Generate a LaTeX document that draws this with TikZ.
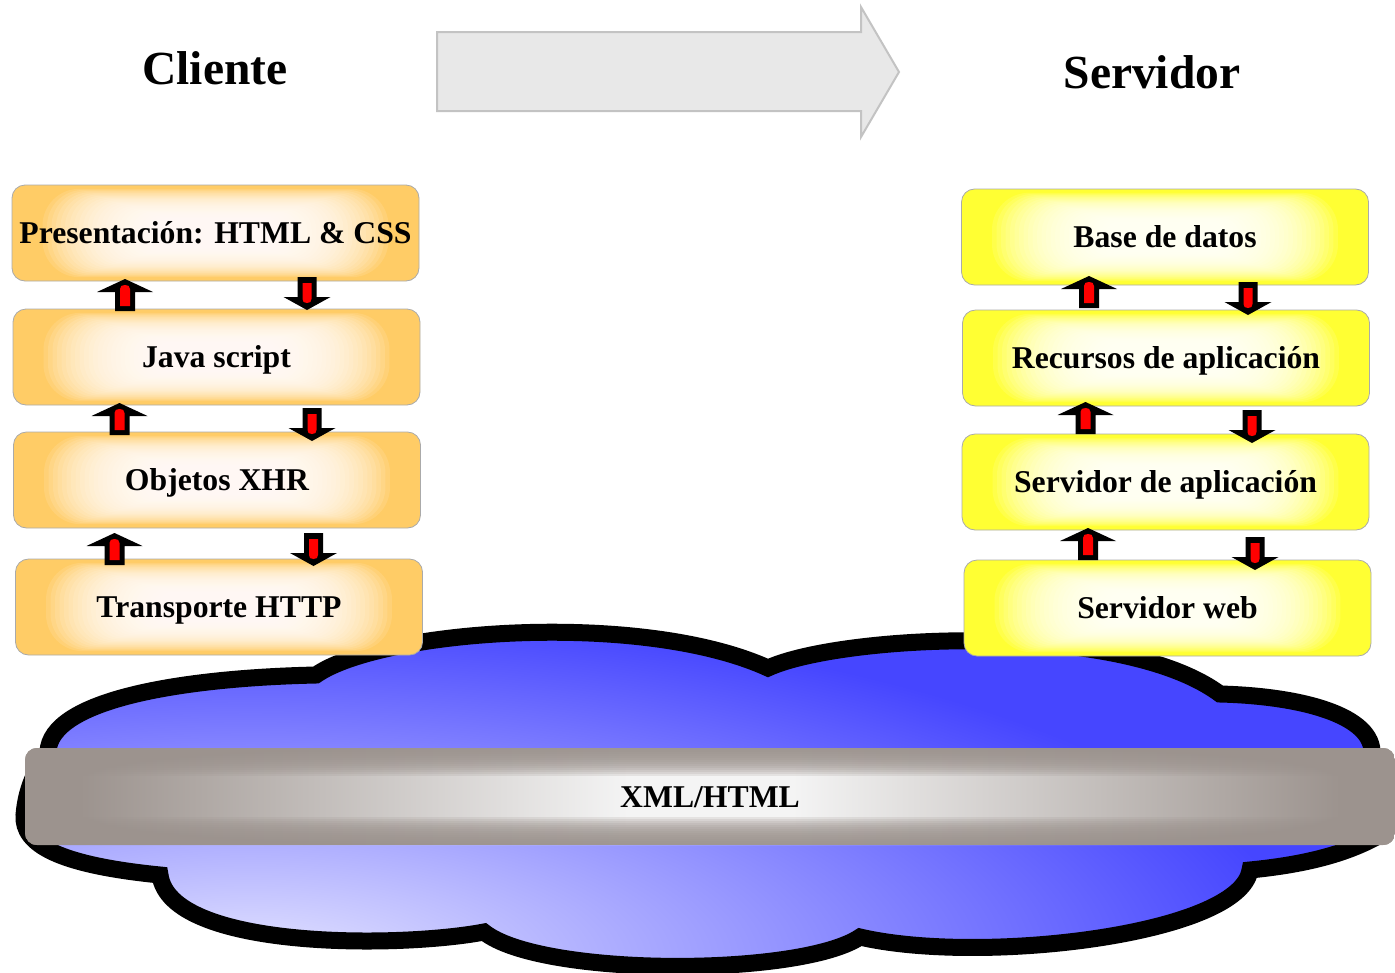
\documentclass[tikz,border=0pt]{standalone}
\usepackage{fontspec}
\setmainfont{Liberation Serif}
\usetikzlibrary{calc}

\definecolor{cliorange}{HTML}{FFCC66}
\definecolor{srvyellow}{HTML}{FFFF33}
\definecolor{boxedge}{HTML}{AAAAAA}
\definecolor{flowfill}{HTML}{E8E8E8}
\definecolor{flowedge}{HTML}{C3C3C3}
\definecolor{cloudlight}{HTML}{E4E4FF}
\definecolor{clouddark}{HTML}{4646FF}
\definecolor{bargray}{HTML}{9C938E}
\definecolor{barlight}{HTML}{F4F4F4}

% light centre of the network cloud
\pgfdeclareradialshading{cloudglow}{\pgfpoint{0bp}{0bp}}%
  {color(0bp)=(cloudlight); color(25bp)=(clouddark); color(50bp)=(clouddark)}
% metallic band: gray ends, bright middle
\pgfdeclarehorizontalshading{barshade}{100bp}%
  {color(0bp)=(bargray); color(27bp)=(bargray); color(47bp)=(barlight);
   color(53bp)=(barlight); color(73bp)=(bargray); color(100bp)=(bargray)}

\newcommand\cbfont{\fontsize{31.7}{38}\selectfont\bfseries}
\newcommand\bigtitlefont{\fontsize{47.5}{57}\selectfont\bfseries}

% coloured box body that brightens towards its middle
\newcommand\glowbody[2]{%
  \begin{scope}[shift={(#2)}]
    \fill[#1, rounded corners=13pt] (-203.5,-48) rectangle (203.5,48);
    \foreach \k in {0,...,25} {
      \pgfmathsetmacro\s{0.92-0.024*\k}
      \pgfmathsetmacro\glowrad{40*\s}
      \pgfmathsetmacro\glowhw{188*\s}
      \pgfmathsetmacro\glowhh{48*\s}
      \fill[white, fill opacity=0.115, rounded corners=\glowrad pt]
        (-\glowhw,-\glowhh) rectangle (\glowhw,\glowhh);
    }
  \end{scope}}

\tikzset{
  layerbox/.style={
    draw=boxedge, line width=0.8pt, rounded corners=13pt,
    minimum width=407pt, minimum height=96pt, inner sep=0pt,
    font=\cbfont, text height=23.8pt, text depth=3.8pt},
  uparr/.pic={
    \fill[black] (0,0) -- (28,13) -- (10,13) -- (10,32) -- (-10,32)
      -- (-10,13) -- (-28,13) -- cycle;
    \fill[red] (-5,27) -- (-5,10) .. controls (-5,7) and (-3,6) .. (0,6)
      .. controls (3,6) and (5,7) .. (5,10) -- (5,27) -- cycle;
  },
  downarr/.pic={
    \fill[black] (-9.5,0) -- (9.5,0) -- (9.5,20) -- (23.5,20) -- (0,33)
      -- (-23.5,20) -- (-9.5,20) -- cycle;
    \fill[red] (-4.5,6) -- (4.5,6) -- (4.5,22) .. controls (4.5,25) and (3,26) .. (0,26)
      .. controls (-3,26) and (-4.5,25) .. (-4.5,22) -- cycle;
  }
}

\newcommand\cloudoutline{%
  (48,752) .. controls (50,700) and (180,678) .. (316,675)
  .. controls (380,630) and (640,610) .. (768,668)
  .. controls (840,635) and (1120,620) .. (1220,694)
  .. controls (1300,696) and (1375,715) .. (1372,755)
  .. controls (1395,790) and (1395,825) .. (1380,835)
  .. controls (1340,858) and (1290,866) .. (1250,870)
  .. controls (1240,935) and (980,965) .. (860,937)
  .. controls (800,977) and (540,977) .. (484,932)
  .. controls (400,948) and (170,950) .. (160,875)
  .. controls (60,865) and (22,845) .. (24,815)
  .. controls (26,790) and (35,770) .. (48,752) -- cycle}

\begin{document}
\begin{tikzpicture}[x=1pt, y=-1pt]
\useasboundingbox (0,0) rectangle (1395,972);

% titles and the flow arrow
\node[anchor=base, font=\bigtitlefont] (cli) at (215,84) {Cliente};
\node[anchor=base, font=\bigtitlefont] (srv) at (1152,88) {Servidor};
\draw[flowedge, fill=flowfill, line width=2pt]
  (437,32) -- (861,32) -- (861,7) -- (899,72) -- (861,137) -- (861,111) -- (437,111) -- cycle;

% network cloud
\begin{scope}
  \clip \cloudoutline;
  \fill[clouddark] (0,600) rectangle (1395,972);
  \shade[shading=cloudglow] (250,960) ellipse [x radius=1050, y radius=350];
\end{scope}
\draw[black, line width=17pt, miter limit=10] \cloudoutline;

% XML/HTML band
\begin{scope}
  \path[clip, rounded corners=12pt] (25,748) rectangle (1395,845);
  \shade[shading=barshade] (25,748) rectangle (1395,845);
  \foreach \h in {2,4,...,28} {
    \fill[bargray, fill opacity=0.18] (25,748) rectangle (1395,748+\h);
    \fill[bargray, fill opacity=0.18] (25,845) rectangle (1395,845-\h);
  }
\end{scope}
\node[font=\cbfont, text height=23.8pt, text depth=3.8pt] (xml) at (710,797) {XML/HTML};

% layer positions
\coordinate (p1) at (215.5,233);
\coordinate (p2) at (216.5,357);
\coordinate (p3) at (217,480);
\coordinate (p4) at (219,607);
\coordinate (q1) at (1165,237);
\coordinate (q2) at (1166,358);
\coordinate (q3) at (1165.5,482);
\coordinate (q4) at (1167.5,608);

% client stack
\glowbody{cliorange}{p1}
\glowbody{cliorange}{p2}
\glowbody{cliorange}{p3}
\glowbody{cliorange}{p4}
\node[layerbox] (c1) at (p1) {Presentación: HTML \& CSS};
\node[layerbox] (c2) at (p2) {Java script};
\node[layerbox] (c3) at (p3) {Objetos XHR};
\node[layerbox] (c4) at (p4) {Transporte HTTP};

% server stack
\glowbody{srvyellow}{q1}
\glowbody{srvyellow}{q2}
\glowbody{srvyellow}{q3}
\glowbody{srvyellow}{q4}
\node[layerbox] (s1) at (q1) {Base de datos};
\node[layerbox] (s2) at (q2) {Recursos de aplicación};
\node[layerbox] (s3) at (q3) {Servidor de aplicación};
\node[layerbox] (s4) at (q4) {Servidor web};

% request / response arrows between layers
\pic at (125,279) {uparr};
\pic at (307,277) {downarr};
\pic at (119.5,403) {uparr};
\pic at (312,408) {downarr};
\pic at (114.5,533) {uparr};
\pic at (313.5,533) {downarr};

\pic at (1089,276) {uparr};
\pic at (1248,282) {downarr};
\pic at (1085.5,402) {uparr};
\pic at (1252,410) {downarr};
\pic at (1088,528) {uparr};
\pic at (1255,537) {downarr};
\end{tikzpicture}
\end{document}
